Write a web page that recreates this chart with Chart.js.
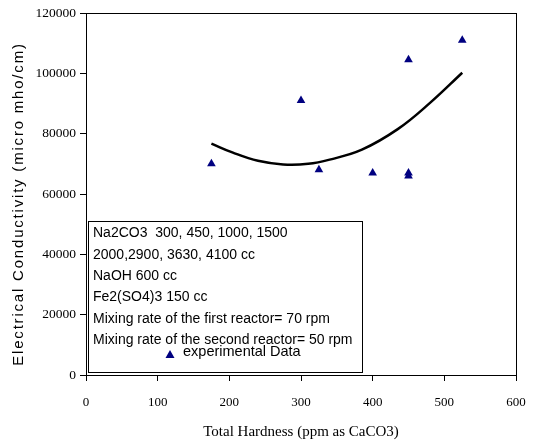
<!DOCTYPE html>
<html>
<head>
<meta charset="utf-8">
<script src="https://cdn.jsdelivr.net/npm/chart.js@4"></script>
<style>
  html, body { margin: 0; padding: 0; background: #fff; }
  #wrap { width: 534px; height: 445px; }
</style>
</head>
<body>
<div id="wrap"><canvas id="scatter"></canvas></div>
<script>
// experimental points
const hardness = [175, 300, 325, 400, 450, 450, 450, 525];
const conductivity = [70000, 91000, 68000, 67000, 104500, 67000, 66000, 111000];
// trend curve
const trendX = [175, 205, 240, 275, 310, 340, 385, 435, 480, 525];
const trendY = [76700, 73700, 71000, 69800, 70000, 71400, 74700, 81500, 90200, 100200];
const xTicks = [0, 100, 200, 300, 400, 500, 600];
const yTicks = [0, 20000, 40000, 60000, 80000, 100000, 120000];
const noteLines = [
    'Na2CO3  300, 450, 1000, 1500',
    '2000,2900, 3630, 4100 cc',
    'NaOH 600 cc',
    'Fe2(SO4)3 150 cc',
    'Mixing rate of the first reactor= 70 rpm',
    'Mixing rate of the second reactor= 50 rpm'
];
const legendLabel = 'experimental Data';
const yTitle = 'Electrical Conductivity (micro mho/cm)';

let canvasone, chartone;

const frame = {
    id: 'frame',
    afterDraw(chart) {
        const c = chart.ctx, a = chart.chartArea;
        c.save();
        c.strokeStyle = '#000';
        c.lineWidth = 1;
        c.strokeRect(a.left + 0.5, a.top + 0.5, a.right - a.left, a.bottom - a.top);

        // y axis title (spaced out like the original)
        c.save();
        c.translate(19, (a.top + a.bottom) / 2 + 10);
        c.rotate(-Math.PI / 2);
        c.fillStyle = '#000';
        c.font = '15px "Liberation Sans", Arial, sans-serif';
        c.letterSpacing = '1.8px';
        c.textAlign = 'center';
        c.textBaseline = 'middle';
        c.fillText(yTitle, 0, 0);
        c.restore();

        // legend box with notes
        const bx = 88.5, by = 221.5, bw = 274, bh = 151;
        c.fillStyle = '#fff';
        c.fillRect(bx, by, bw, bh);
        c.strokeRect(bx, by, bw, bh);
        c.fillStyle = '#000';
        c.font = '14px "Liberation Sans", Arial, sans-serif';
        c.textBaseline = 'middle';
        c.textAlign = 'left';
        const ys = [233, 255, 276, 297, 319, 340];
        noteLines.forEach((t, i) => c.fillText(t, 93, ys[i]));
        c.font = '14.5px "Liberation Sans", Arial, sans-serif';
        c.fillText(legendLabel, 183, 352);
        c.fillStyle = '#000080';
        c.beginPath();
        c.moveTo(170, 350);
        c.lineTo(174.5, 358);
        c.lineTo(165.5, 358);
        c.closePath();
        c.fill();
        c.restore();
    }
};

function init() {
    canvasone = document.getElementById('scatter');
    chartone = canvasone.getContext('2d');
    createScatter();
}

function createScatter() {
    new Chart(chartone, {
        type: 'scatter',
        data: {
            datasets: [{
                label: legendLabel,
                data: hardness.map((x, i) => ({ x: x, y: conductivity[i] })),
                pointStyle: 'triangle',
                pointRadius: 5,
                backgroundColor: '#000080',
                borderColor: '#000080',
                borderWidth: 0
            }, {
                label: 'trend',
                type: 'line',
                data: trendX.map((x, i) => ({ x: x, y: trendY[i] })),
                borderColor: '#000',
                borderWidth: 2.5,
                pointRadius: 0,
                tension: 0.4,
                fill: false
            }]
        },
        options: {
            responsive: true,
            maintainAspectRatio: false,
            animation: false,
            layout: { padding: { top: 13, right: 18, left: 0, bottom: 0 } },
            plugins: {
                legend: { display: false },
                tooltip: { enabled: false }
            },
            scales: {
                x: {
                    type: 'linear',
                    min: 0, max: 600,
                    afterFit: s => { s.height = 70; s.paddingLeft = 0; s.paddingRight = 0; },
                    afterBuildTicks: s => { s.ticks = xTicks.map(v => ({ value: v })); },
                    grid: { drawOnChartArea: false, color: '#000', tickLength: 6 },
                    border: { color: '#000' },
                    ticks: {
                        color: '#000',
                        font: { family: '"Liberation Serif", "Times New Roman", serif', size: 13 },
                        padding: 14
                    },
                    title: {
                        display: true,
                        text: 'Total Hardness (ppm as CaCO3)',
                        color: '#000',
                        font: { family: '"Liberation Serif", "Times New Roman", serif', size: 15 },
                        padding: { top: 10 }
                    }
                },
                y: {
                    min: 0, max: 120000,
                    afterFit: s => { s.width = 86; },
                    afterBuildTicks: s => { s.ticks = yTicks.map(v => ({ value: v })); },
                    grid: { drawOnChartArea: false, color: '#000', tickLength: 6 },
                    border: { color: '#000' },
                    ticks: {
                        color: '#000',
                        font: { family: '"Liberation Serif", "Times New Roman", serif', size: 13.5 },
                        padding: 4,
                        callback: v => String(v)
                    }
                }
            }
        },
        plugins: [frame]
    });
}

document.addEventListener('DOMContentLoaded', init);
</script>
</body>
</html>
